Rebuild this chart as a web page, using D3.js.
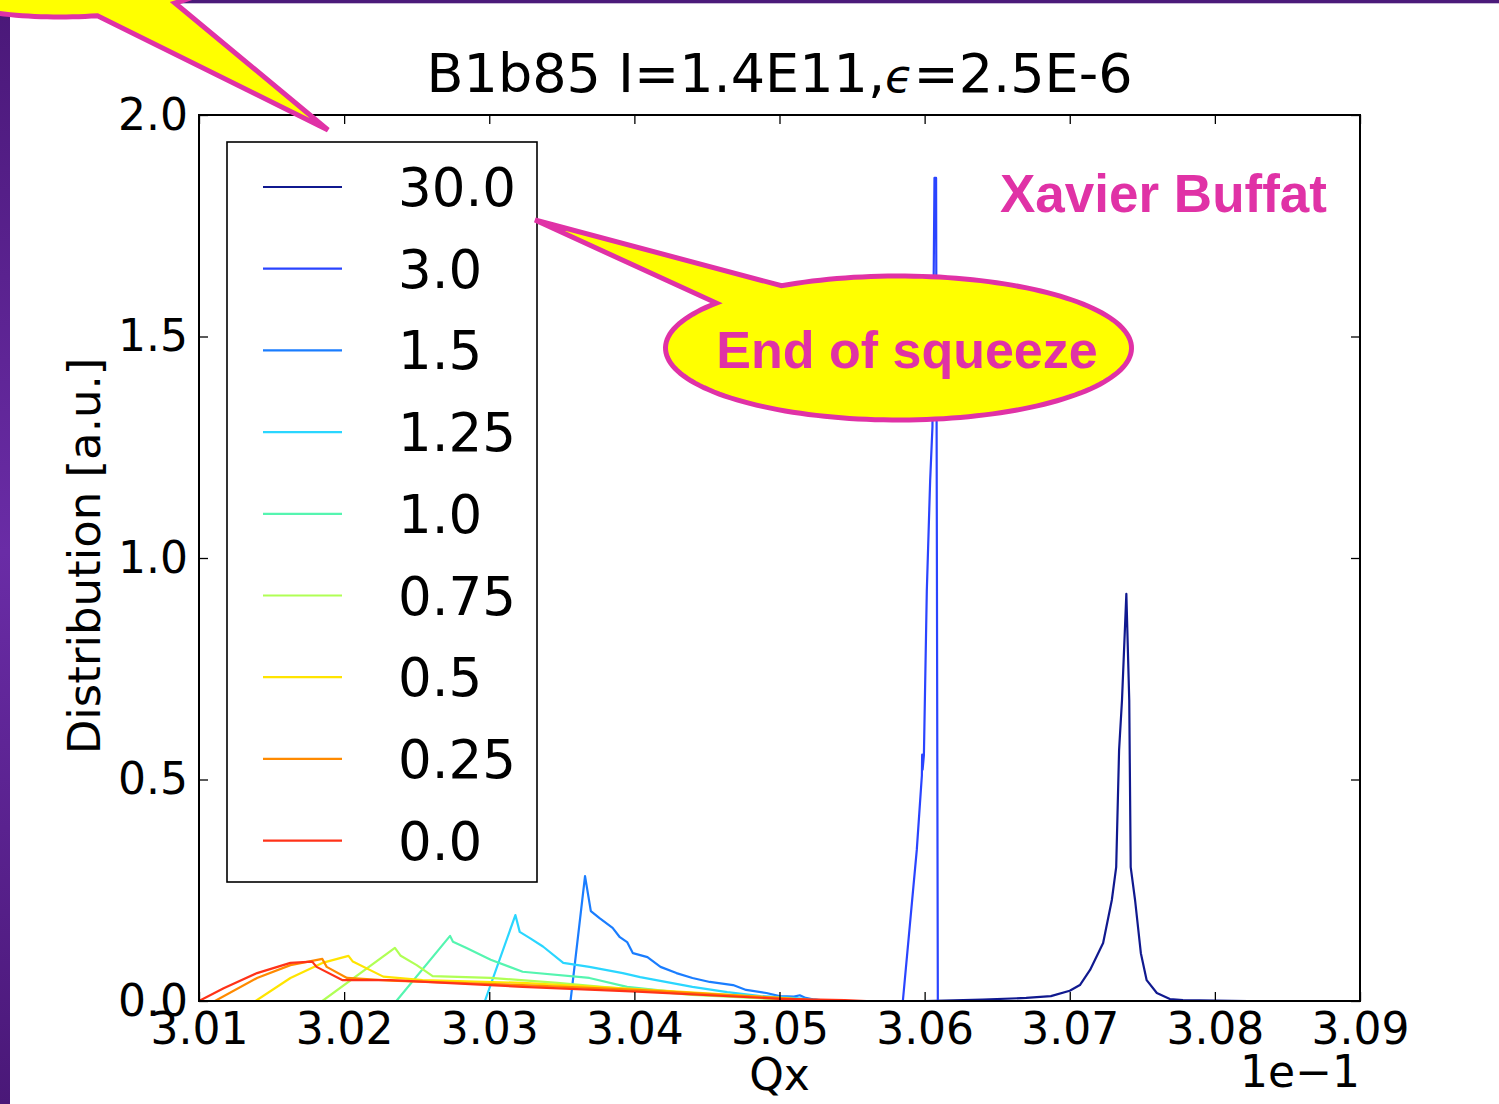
<!DOCTYPE html>
<html>
<head>
<meta charset="utf-8">
<script src="https://cdn.jsdelivr.net/npm/d3@7"></script>
<style>
  html, body { margin: 0; padding: 0; background: #ffffff; }
  svg { display: block; }
  .tick text { font-family: "DejaVu Sans", sans-serif; }
</style>
</head>
<body>
<svg id="chart" width="1499" height="1104"></svg>
<script>
// ---------------- DATA ----------------
const seriesLabels = ["30.0", "3.0", "1.5", "1.25", "1.0", "0.75", "0.5", "0.25", "0.0"];
const seriesColors = ["#10198f", "#2a44ff", "#1a7dff", "#2ad6ff", "#55f5b0", "#b0ff55", "#ffe400", "#ff8a00", "#ff3218"];

const xTicks = [3.01, 3.02, 3.03, 3.04, 3.05, 3.06, 3.07, 3.08, 3.09];
const yTicks = [0.0, 0.5, 1.0, 1.5, 2.0];

// [Qx (x1e-1), distribution]
const s30_0 = [[3.0406,0],[3.0600,0],[3.0640,0.003],[3.0670,0.007],[3.0687,0.011],[3.0700,0.023],[3.0707,0.036],[3.0714,0.070],[3.0723,0.131],[3.0729,0.228],[3.0732,0.302],[3.0734,0.567],[3.0736,0.679],[3.0739,0.919],[3.0741,0.679],[3.0742,0.302],[3.0745,0.228],[3.0749,0.108],[3.0753,0.047],[3.0760,0.018],[3.0769,0.0045],[3.0778,0.002],[3.0823,0]];
const s3_0 = [[3.0500,0],[3.0585,0],[3.05946,0.341],[3.05981,0.509],[3.05983,0.556],[3.05986,0.522],[3.05995,0.555],[3.06015,0.925],[3.06038,1.174],[3.06054,1.297],[3.06068,1.858],[3.06079,1.858],[3.06091,0],[3.0747,0]];
const s1_5 = [[3.0356,0],[3.0366,0.282],[3.0370,0.203],[3.0376,0.187],[3.0385,0.165],[3.0390,0.144],[3.0395,0.133],[3.0399,0.108],[3.0409,0.099],[3.0418,0.077],[3.0429,0.063],[3.0440,0.052],[3.0452,0.043],[3.0468,0.036],[3.0477,0.025],[3.0491,0.018],[3.0500,0.011],[3.0510,0.010],[3.0514,0.013],[3.0518,0.007],[3.0523,0.004],[3.0535,0],[3.0700,0]];
const s1_25 = [[3.0297,0],[3.0318,0.194],[3.0321,0.156],[3.0328,0.142],[3.0337,0.123],[3.0351,0.086],[3.0369,0.077],[3.0392,0.063],[3.0404,0.054],[3.0440,0.032],[3.0464,0.020],[3.0487,0.011],[3.0509,0.007],[3.0535,0],[3.0700,0]];
const s1_0 = [[3.0236,0],[3.0273,0.147],[3.0275,0.134],[3.0284,0.120],[3.0301,0.093],[3.0323,0.066],[3.0369,0.052],[3.0395,0.032],[3.0440,0.016],[3.0487,0.007],[3.0514,0.002],[3.0540,0],[3.0710,0]];
const s0_75 = [[3.0185,0],[3.0235,0.120],[3.0239,0.102],[3.0250,0.081],[3.0261,0.056],[3.0301,0.052],[3.0347,0.041],[3.0395,0.027],[3.0440,0.014],[3.0500,0.004],[3.0530,0],[3.0715,0]];
const s0_5 = [[3.0139,0],[3.0163,0.052],[3.0185,0.086],[3.0203,0.102],[3.0206,0.089],[3.0227,0.055],[3.0254,0.047],[3.0323,0.041],[3.0402,0.027],[3.0500,0.007],[3.0530,0],[3.0720,0]];
const s0_25 = [[3.0111,0],[3.0140,0.052],[3.0163,0.081],[3.0185,0.095],[3.0188,0.077],[3.0202,0.052],[3.0232,0.046],[3.0323,0.036],[3.0402,0.025],[3.0500,0.007],[3.0530,0],[3.0722,0]];
const s0_0 = [[3.0100,0],[3.0117,0.029],[3.0140,0.063],[3.0163,0.086],[3.0178,0.089],[3.0181,0.077],[3.0199,0.047],[3.0232,0.047],[3.0323,0.032],[3.0402,0.021],[3.0500,0.005],[3.0545,0.002],[3.0560,0],[3.0725,0]];
const seriesData = [s30_0, s3_0, s1_5, s1_25, s1_0, s0_75, s0_5, s0_25, s0_0];

const titleMain = "B1b85 I=1.4E11,";
const titleEps = "ϵ";
const titleRest = "=2.5E-6";
const xLabel = "Qx";
const yLabel = "Distribution [a.u.]";
const xOffsetLabel = "1e\u22121";
const authorText = "Xavier Buffat";
const calloutText = "End of squeeze";

// ---------------- LAYOUT ----------------
const svg = d3.select("#chart");
const W = 1499, H = 1104;
const plot = { left: 199, right: 1360, top: 115, bottom: 1001 };

svg.append("rect").attr("width", W).attr("height", H).attr("fill", "#ffffff");

const x = d3.scaleLinear().domain([3.01, 3.09]).range([plot.left, plot.right]);
const y = d3.scaleLinear().domain([0, 2.0]).range([plot.bottom, plot.top]);

const defs = svg.append("defs");
defs.append("clipPath").attr("id", "plotclip")
  .append("rect").attr("x", plot.left).attr("y", plot.top)
  .attr("width", plot.right - plot.left).attr("height", plot.bottom - plot.top);

const line = d3.line().x(d => x(d[0])).y(d => y(d[1]));

const gLines = svg.append("g").attr("clip-path", "url(#plotclip)");
seriesData.forEach((s, i) => {
  gLines.append("path")
    .attr("d", line(s))
    .attr("fill", "none")
    .attr("stroke", seriesColors[i])
    .attr("stroke-width", 2.2)
    .attr("stroke-linejoin", "round");
});

// axes
const fmt = d3.format(".2f");
const axB = svg.append("g").attr("transform", `translate(0,${plot.bottom})`)
  .call(d3.axisBottom(x).tickValues(xTicks).tickFormat(fmt).tickSize(-9).tickPadding(12));
const axT = svg.append("g").attr("transform", `translate(0,${plot.top})`)
  .call(d3.axisTop(x).tickValues(xTicks).tickFormat("").tickSize(-9));
const axL = svg.append("g").attr("transform", `translate(${plot.left},0)`)
  .call(d3.axisLeft(y).tickValues(yTicks).tickFormat(d3.format(".1f")).tickSize(-9).tickPadding(11));
const axR = svg.append("g").attr("transform", `translate(${plot.right},0)`)
  .call(d3.axisRight(y).tickValues(yTicks).tickFormat("").tickSize(-9));

[axB, axT, axL, axR].forEach(g => {
  g.select(".domain").remove();
  g.selectAll(".tick line").attr("stroke", "#000").attr("stroke-width", 1.3);
  g.selectAll(".tick text").attr("fill", "#000").attr("font-size", 44);
});

// frame
svg.append("rect")
  .attr("x", plot.left).attr("y", plot.top)
  .attr("width", plot.right - plot.left).attr("height", plot.bottom - plot.top)
  .attr("fill", "none").attr("stroke", "#000").attr("stroke-width", 2);

// title
const title = svg.append("text")
  .attr("x", (plot.left + plot.right) / 2).attr("y", 92)
  .attr("text-anchor", "middle")
  .attr("font-family", "DejaVu Sans, sans-serif").attr("font-size", 54).attr("fill", "#000");
title.append("tspan").text(titleMain);
title.append("tspan").attr("font-size", 46).attr("font-style", "italic").text(titleEps);
title.append("tspan").text(titleRest);

// axis labels
svg.append("text").attr("x", (plot.left + plot.right) / 2).attr("y", 1090)
  .attr("text-anchor", "middle").attr("font-family", "DejaVu Sans, sans-serif")
  .attr("font-size", 44).attr("fill", "#000").text(xLabel);
svg.append("text").attr("x", plot.right).attr("y", 1087)
  .attr("text-anchor", "end").attr("font-family", "DejaVu Sans, sans-serif")
  .attr("font-size", 44).attr("fill", "#000").text(xOffsetLabel);
svg.append("text")
  .attr("transform", `translate(100,${(plot.top + plot.bottom) / 2 - 2}) rotate(-90)`)
  .attr("text-anchor", "middle").attr("font-family", "DejaVu Sans, sans-serif")
  .attr("font-size", 45).attr("fill", "#000").text(yLabel);

// legend
const lg = svg.append("g");
lg.append("rect").attr("x", 227).attr("y", 142).attr("width", 310).attr("height", 740)
  .attr("fill", "#fff").attr("stroke", "#000").attr("stroke-width", 1.6);
seriesLabels.forEach((lab, i) => {
  const yy = 187 + i * 81.7;
  lg.append("line").attr("x1", 263).attr("x2", 342).attr("y1", yy).attr("y2", yy)
    .attr("stroke", seriesColors[i]).attr("stroke-width", 2.2);
  lg.append("text").attr("x", 398).attr("y", yy + 19)
    .attr("font-family", "DejaVu Sans, sans-serif").attr("font-size", 53)
    .attr("fill", "#000").text(lab);
});

// author
svg.append("text").attr("x", 1000).attr("y", 212)
  .attr("font-family", "Liberation Sans, Arial, sans-serif").attr("font-weight", "bold")
  .attr("font-size", 53).attr("fill", "#e032a6").text(authorText);

// ---------------- CALLOUTS ----------------
const magenta = "#e032a6";
function ellipseCallout(cx, cy, rx, ry, pUp, pLow, tip) {
  // pUp, pLow: attachment points (approx on ellipse); tip: pointer end
  const a1 = Math.atan2((pUp[1] - cy) / ry, (pUp[0] - cx) / rx);
  const a2 = Math.atan2((pLow[1] - cy) / ry, (pLow[0] - cx) / rx);
  let delta = a1 - a2;
  while (delta > Math.PI) delta -= 2 * Math.PI;
  while (delta <= -Math.PI) delta += 2 * Math.PI;
  const span = delta - Math.sign(delta) * 2 * Math.PI; // long way round
  const p = d3.path();
  const n = 160;
  p.moveTo(tip[0], tip[1]);
  for (let k = 0; k <= n; k++) {
    const a = a2 + span * k / n;
    p.lineTo(cx + rx * Math.cos(a), cy + ry * Math.sin(a));
  }
  p.closePath();
  return p.toString();
}
// End of squeeze
svg.append("path")
  .attr("d", ellipseCallout(898.5, 348, 233, 72, [782, 286], [720, 304], [535, 220]))
  .attr("fill", "#ffff00").attr("stroke", magenta).attr("stroke-width", 5).attr("stroke-linejoin", "miter");
svg.append("text").attr("x", 907).attr("y", 368).attr("text-anchor", "middle")
  .attr("font-family", "Liberation Sans, Arial, sans-serif").attr("font-weight", "bold")
  .attr("font-size", 52).attr("fill", magenta).text(calloutText);

// purple frame bars
const grad = defs.append("linearGradient").attr("id", "pg")
  .attr("x1", 0).attr("y1", 0).attr("x2", 0).attr("y2", 1);
grad.append("stop").attr("offset", "0%").attr("stop-color", "#4a1878");
grad.append("stop").attr("offset", "50%").attr("stop-color", "#6a2ca6");
grad.append("stop").attr("offset", "100%").attr("stop-color", "#4a1878");
svg.append("rect").attr("x", 0).attr("y", 0).attr("width", W).attr("height", 3.3).attr("fill", "#4b1a7a");
svg.append("rect").attr("x", 0).attr("y", 0).attr("width", 10).attr("height", H).attr("fill", "url(#pg)");

// top-left callout (mostly off-canvas)
svg.append("path")
  .attr("d", ellipseCallout(60, -40, 175, 57, [175, 3], [97, 15], [328, 130]))
  .attr("fill", "#ffff00").attr("stroke", magenta).attr("stroke-width", 5).attr("stroke-linejoin", "miter");
</script>
</body>
</html>
